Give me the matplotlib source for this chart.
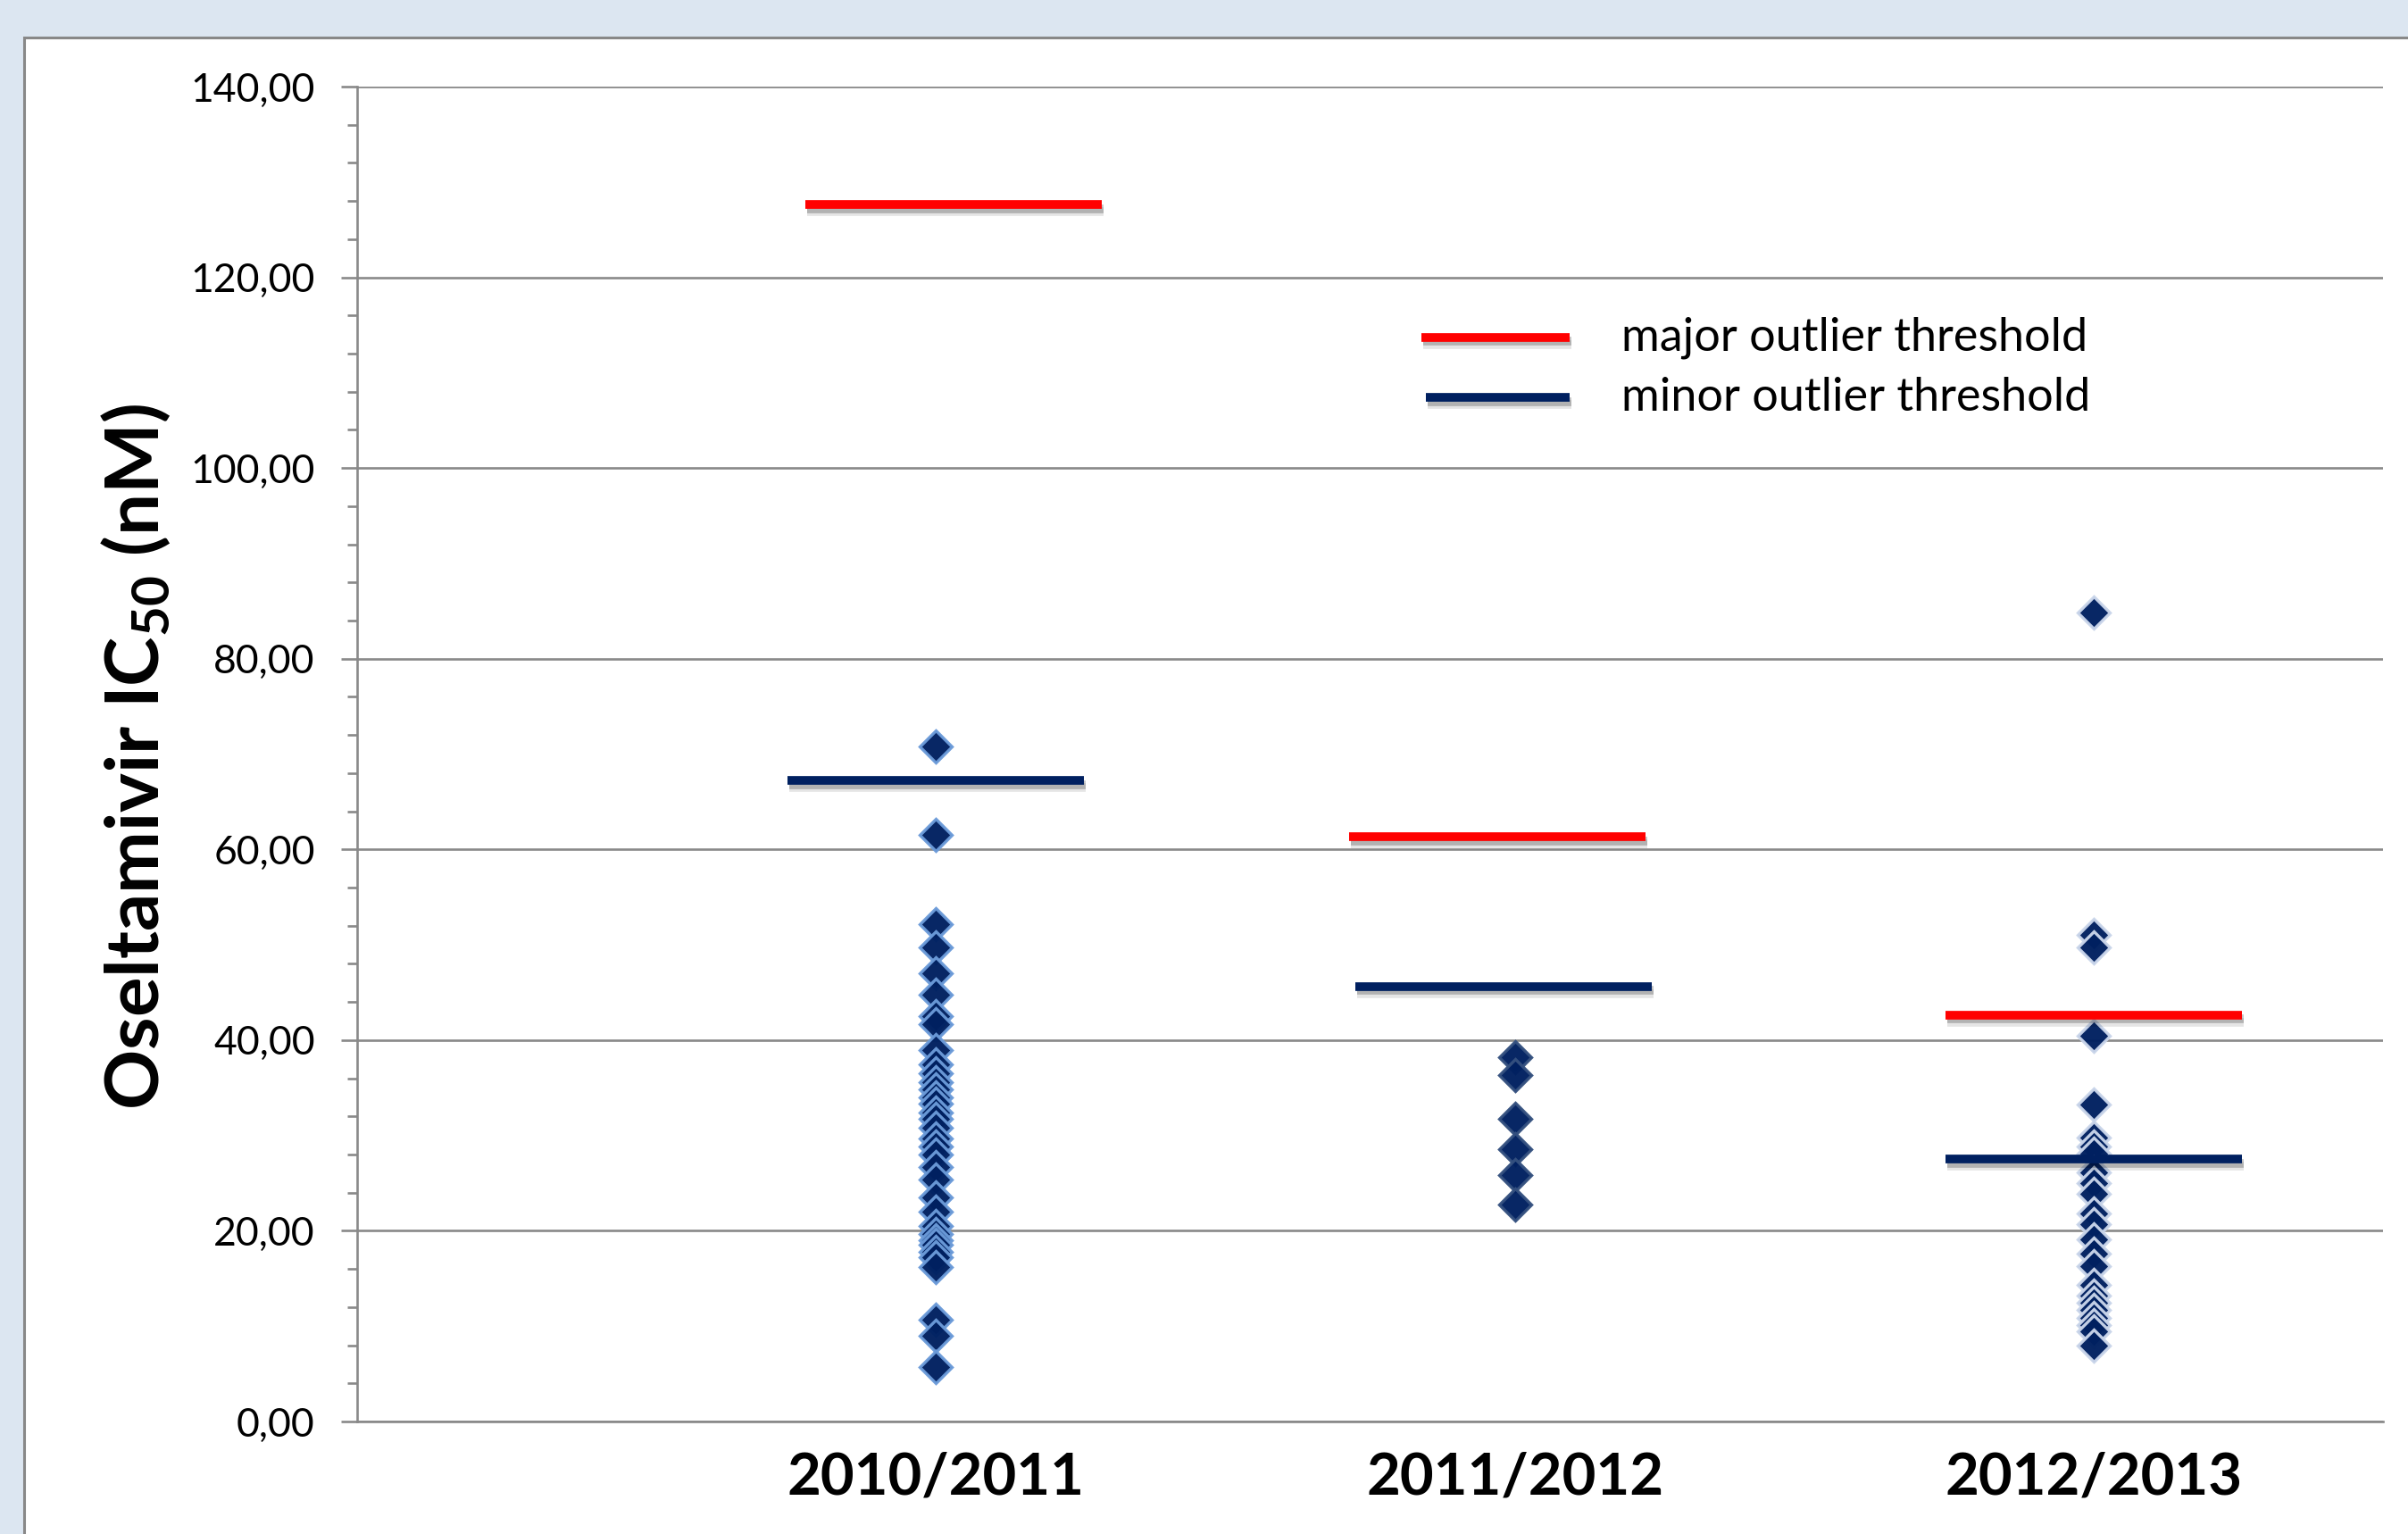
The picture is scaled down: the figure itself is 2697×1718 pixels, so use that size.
import matplotlib
matplotlib.use('Agg')
import matplotlib.pyplot as plt
import matplotlib.patheffects as pe
from matplotlib.patches import Rectangle
from matplotlib.ticker import MultipleLocator, FuncFormatter, FixedLocator

# ---------------- data ----------------
seasons = ['2010/2011', '2011/2012', '2012/2013']

ic50_2010_2011 = [70.8, 61.5, 52.2, 49.7, 47.0, 44.8, 42.5, 41.7, 39.0, 37.5,
                  36.5, 35.6, 34.8, 34.0, 33.3, 32.4, 31.7, 30.8, 29.7, 28.8,
                  28.0, 26.7, 25.4, 23.5, 22.0, 20.5, 19.7, 19.0, 18.5, 17.8,
                  17.2, 16.2, 10.7, 9.0, 5.7]
ic50_2011_2012 = [38.2, 36.3, 31.7, 28.6, 25.8, 22.8]
ic50_2012_2013 = [84.8, 51.0, 49.7, 40.5, 33.2, 29.8, 28.8, 28.1, 26.1, 25.0,
                  23.9, 21.8, 20.7, 19.1, 17.6, 16.3, 14.3, 13.2, 12.5, 11.7,
                  10.9, 10.1, 9.5, 8.0]

major_threshold = [127.6, 61.3, 42.6]
minor_threshold = [67.2, 45.6, 27.5]
# horizontal centre of each threshold bar (x units, seasons at 1, 2, 3)
major_bar_center = [1.03, 1.97, 3.00]
minor_bar_center = [1.00, 1.98, 3.00]

legend_labels = ['major outlier threshold', 'minor outlier threshold']
y_major_ticks = [0, 20, 40, 60, 80, 100, 120, 140]
y_label = r'Oseltamivir IC$_{50}$ (nM)'

# ---------------- style ----------------
plt.rcParams['font.family'] = ['Lato', 'DejaVu Sans']
plt.rcParams['mathtext.fontset'] = 'custom'
plt.rcParams['mathtext.rm'] = 'Lato:bold'
plt.rcParams['mathtext.default'] = 'rm'

GRAY = '#898989'
NAVY = '#002060'
RED = '#ff0000'
edge_colors = ['#6b9bd9', '#34507f', '#c9d5ea']
BAR_HALF = 0.256

fig = plt.figure(figsize=(26.97, 17.18), dpi=100)
fig.patch.set_facecolor('#dce6f1')

# white inner panel with gray border
top_frac = 1 - 42 / 1718
panel = Rectangle((27 / 2697, -0.2), 1.2, top_frac + 0.2,
                  transform=fig.transFigure, facecolor='white',
                  edgecolor='#888888', linewidth=2.2, zorder=-5)
fig.patches.append(panel)

ax = fig.add_axes([400 / 2697, 126 / 1718, (2669 - 400) / 2697, (1592 - 97) / 1718])
ax.set_facecolor('none')
ax.set_zorder(2)

x_pos = list(range(1, len(seasons) + 1))
series = [ic50_2010_2011, ic50_2011_2012, ic50_2012_2013]

for i, (xp, vals) in enumerate(zip(x_pos, series)):
    ax.plot([xp] * len(vals), vals, linestyle='none', marker='D',
            markersize=18, markerfacecolor=NAVY,
            markeredgecolor=edge_colors[i], markeredgewidth=2.4,
            alpha=0.97, zorder=3, clip_on=False)

shadow = [pe.SimpleLineShadow(offset=(1.5, -3.0), shadow_color='black', alpha=0.22),
          pe.SimpleLineShadow(offset=(1.5, -5.5), shadow_color='black', alpha=0.10),
          pe.Normal()]

for cj, mj, cn, mn in zip(major_bar_center, major_threshold,
                          minor_bar_center, minor_threshold):
    ax.plot([cj - BAR_HALF, cj + BAR_HALF], [mj, mj], color=RED, linewidth=7,
            solid_capstyle='butt', path_effects=shadow, zorder=4)
    ax.plot([cn - BAR_HALF, cn + BAR_HALF], [mn, mn], color=NAVY, linewidth=7,
            solid_capstyle='butt', path_effects=shadow, zorder=4)

# legend drawn in axes coordinates
ax_w = 2669 - 400
for (y_leg, col, lab, x0) in [(0.812, RED, legend_labels[0], (1592 - 400) / ax_w),
                               (0.767, NAVY, legend_labels[1], (1597 - 400) / ax_w)]:
    ax.plot([x0, (1758 - 400) / ax_w], [y_leg, y_leg], color=col, linewidth=7,
            solid_capstyle='butt', path_effects=shadow,
            transform=ax.transAxes, zorder=4)
    ax.text((1816 - 400) / ax_w, y_leg, lab, transform=ax.transAxes, fontsize=37.5,
            va='center', ha='left', color='black')

# axes
ax.set_xlim(0, 3.5)
ax.set_ylim(0, 140)
ax.yaxis.set_major_locator(FixedLocator(y_major_ticks))
ax.yaxis.set_minor_locator(MultipleLocator(4))
ax.yaxis.set_major_formatter(FuncFormatter(lambda v, p: f'{v:.2f}'.replace('.', ',')))
ax.set_xticks(x_pos)
ax.set_xticklabels(seasons, fontsize=47, fontweight='bold')

ax.grid(axis='y', which='major', color=GRAY, linewidth=1.9, zorder=1)
ax.set_axisbelow(True)
for s in ['top', 'right']:
    ax.spines[s].set_visible(False)
for s in ['left', 'bottom']:
    ax.spines[s].set_color(GRAY)
    ax.spines[s].set_linewidth(1.9)

ax.tick_params(axis='y', which='major', length=13, width=1.9, color=GRAY,
               pad=21, labelsize=32)
ax.tick_params(axis='y', which='minor', length=8, width=1.9, color=GRAY)
ax.tick_params(axis='x', which='both', length=0, pad=24)

fig.text(152 / 2697, 1 - 847 / 1718, y_label, rotation=90, ha='center',
         va='center', fontsize=60, fontweight='bold')

fig.savefig('out.png', dpi=100, facecolor=fig.get_facecolor())
